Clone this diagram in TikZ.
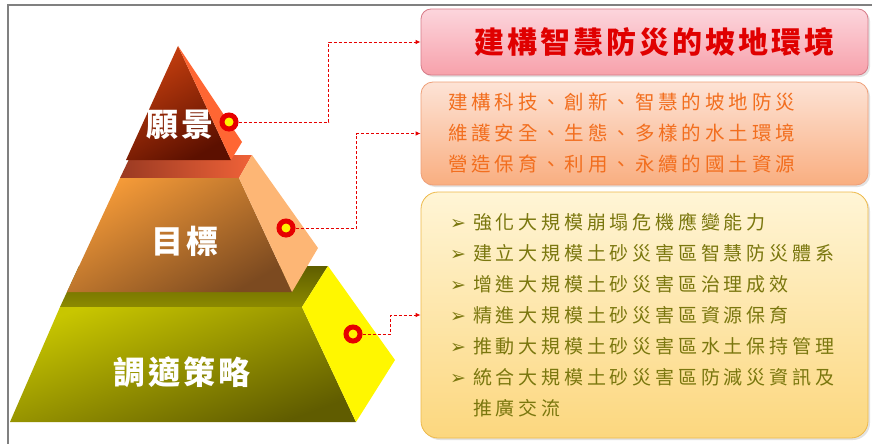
\documentclass[tikz,border=0pt]{standalone}
\usepackage{fontspec}
\usetikzlibrary{arrows.meta,shadows}
\newfontfamily\cjk{Noto Sans CJK TC}
\newfontfamily\cjkgoal[LetterSpace=10]{Noto Sans CJK TC}
\newfontfamily\cjkwide[LetterSpace=20]{Noto Sans CJK TC}
\newfontfamily\dingfont{DejaVu Sans}

\definecolor{dotred}{HTML}{E60000}
\definecolor{goaltext}{HTML}{E00000}
\definecolor{aimtext}{HTML}{F26E1E}
\definecolor{plantext}{HTML}{7A770E}
% pyramid
\definecolor{baseback}{HTML}{5F5E00}
\definecolor{basebackb}{HTML}{8C8A00}
\definecolor{basetop}{HTML}{C8C600}
\definecolor{basebot}{HTML}{605C00}
\definecolor{baseside}{HTML}{FFF700}
\definecolor{midbackl}{HTML}{9A3A22}
\definecolor{midbackr}{HTML}{F06238}
\definecolor{midtop}{HTML}{F49A38}
\definecolor{midbot}{HTML}{7C4A20}
\definecolor{midside}{HTML}{FDB675}
\definecolor{peaktop}{HTML}{C8400F}
\definecolor{peakbot}{HTML}{5C1000}
\definecolor{peakside}{HTML}{FF6633}
% boxes
\definecolor{goaldraw}{HTML}{D77B88}
\definecolor{goaltop}{HTML}{FCD5DC}
\definecolor{goalbot}{HTML}{F7A1AB}
\definecolor{aimdraw}{HTML}{EE9F78}
\definecolor{aimtop}{HTML}{FDE3D6}
\definecolor{aimbot}{HTML}{F9AE80}
\definecolor{plandraw}{HTML}{EDB94A}
\definecolor{plantop}{HTML}{FFF5D6}
\definecolor{planbot}{HTML}{FCD77E}

\tikzset{
  dot/.style={circle, draw=dotred, fill=yellow, line width=5pt, minimum size=14pt, inner sep=0pt},
  link/.style={densely dashed, dotred, line width=0.9pt, -{Latex[length=5pt,width=4.5pt]}},
  card/.style={draw, line width=0.8pt, minimum width=447pt, inner sep=0pt,
    drop shadow={shadow xshift=2pt, shadow yshift=-2pt, fill=gray!45}},
  tier/.style={text=white, font={\cjkgoal\bfseries\fontsize{32}{32}\selectfont}}
}

\newcommand{\bul}{\makebox[23pt][l]{{\dingfont\fontsize{19}{19}\selectfont ➢}}}

\begin{document}
\begin{tikzpicture}[x=1pt, y=-1pt]
  \useasboundingbox (0,0) rectangle (872,444);
  \draw[gray, line width=1.5pt] (8,444) -- (8,5) -- (872,5);

  % bottom tier
  \shade[top color=baseback, bottom color=basebackb]
    (60,307) -- (79,266) -- (328,266) -- (302,307) -- cycle;
  \shade[top color=basetop, bottom color=basebot, shading angle=20]
    (60,307) -- (302,307) -- (356,422) -- (10,422) -- cycle;
  \fill[baseside] (302,307) -- (328,266) -- (395,360) -- (356,422) -- cycle;

  % middle tier
  \shade[left color=midbackl, right color=midbackr]
    (120,178) -- (131,155) -- (252,155) -- (239,178) -- cycle;
  \shade[top color=midtop, bottom color=midbot, shading angle=30]
    (120,178) -- (239,178) -- (292,292) -- (67,292) -- cycle;
  \fill[midside] (239,178) -- (252,155) -- (318,248) -- (292,292) -- cycle;

  % top piece
  \shade[top color=peaktop, bottom color=peakbot, shading angle=30]
    (178,46) -- (231,160) -- (126,160) -- cycle;
  \fill[peakside] (178,46) -- (242,142) -- (231,160) -- cycle;

  \node[tier] (vision) at (180,125) {願景};
  \node[tier] (target) at (185,241) {目標};
  \node[tier] (adapt) at (182,372) {調適策略};

  \node[dot] (dotV) at (229,122) {};
  \node[dot] (dotG) at (286,228) {};
  \node[dot] (dotS) at (353,334) {};

  % boxes on the right
  \node[card, rounded corners=10pt, minimum height=66pt, draw=goaldraw,
    top color=goaltop, bottom color=goalbot,
    text=goaltext, font={\cjkgoal\bfseries\fontsize{30}{30}\selectfont}]
    (goal) at (644.5,42) {\hspace*{20pt}建構智慧防災的坡地環境};

  \node[card, rounded corners=12pt, minimum height=103pt, inner xsep=27pt, text width=393pt, align=left,
    draw=aimdraw, top color=aimtop, bottom color=aimbot,
    text=aimtext, font={\cjkwide\fontsize{19.5}{31}\selectfont}]
    (aim) at (644.5,133.5) {建構科技、創新、智慧的坡地防災\\
      維護安全、生態、多樣的水土環境\\
      營造保育、利用、永續的國土資源};

  \node[card, rounded corners=17pt, minimum height=246pt, inner xsep=29pt, text width=389pt, align=left,
    draw=plandraw, top color=plantop, bottom color=planbot,
    text=plantext, font={\cjkwide\fontsize{19}{31}\selectfont}]
    (plan) at (644.5,315) {\bul 強化大規模崩塌危機應變能力\\
      \bul 建立大規模土砂災害區智慧防災體系\\
      \bul 增進大規模土砂災害區治理成效\\
      \bul 精進大規模土砂災害區資源保育\\
      \bul 推動大規模土砂災害區水土保持管理\\
      \bul 統合大規模土砂災害區防減災資訊及\\
      \hspace*{23pt}推廣交流};

  \draw[link] (dotV.east) -- ++(90,0) |- (goal.west);
  \draw[link] (dotG.east) -- ++(61,0) |- (aim.west);
  \draw[link] (dotS.east) -- ++(28,0) |- (plan.west);
\end{tikzpicture}
\end{document}
